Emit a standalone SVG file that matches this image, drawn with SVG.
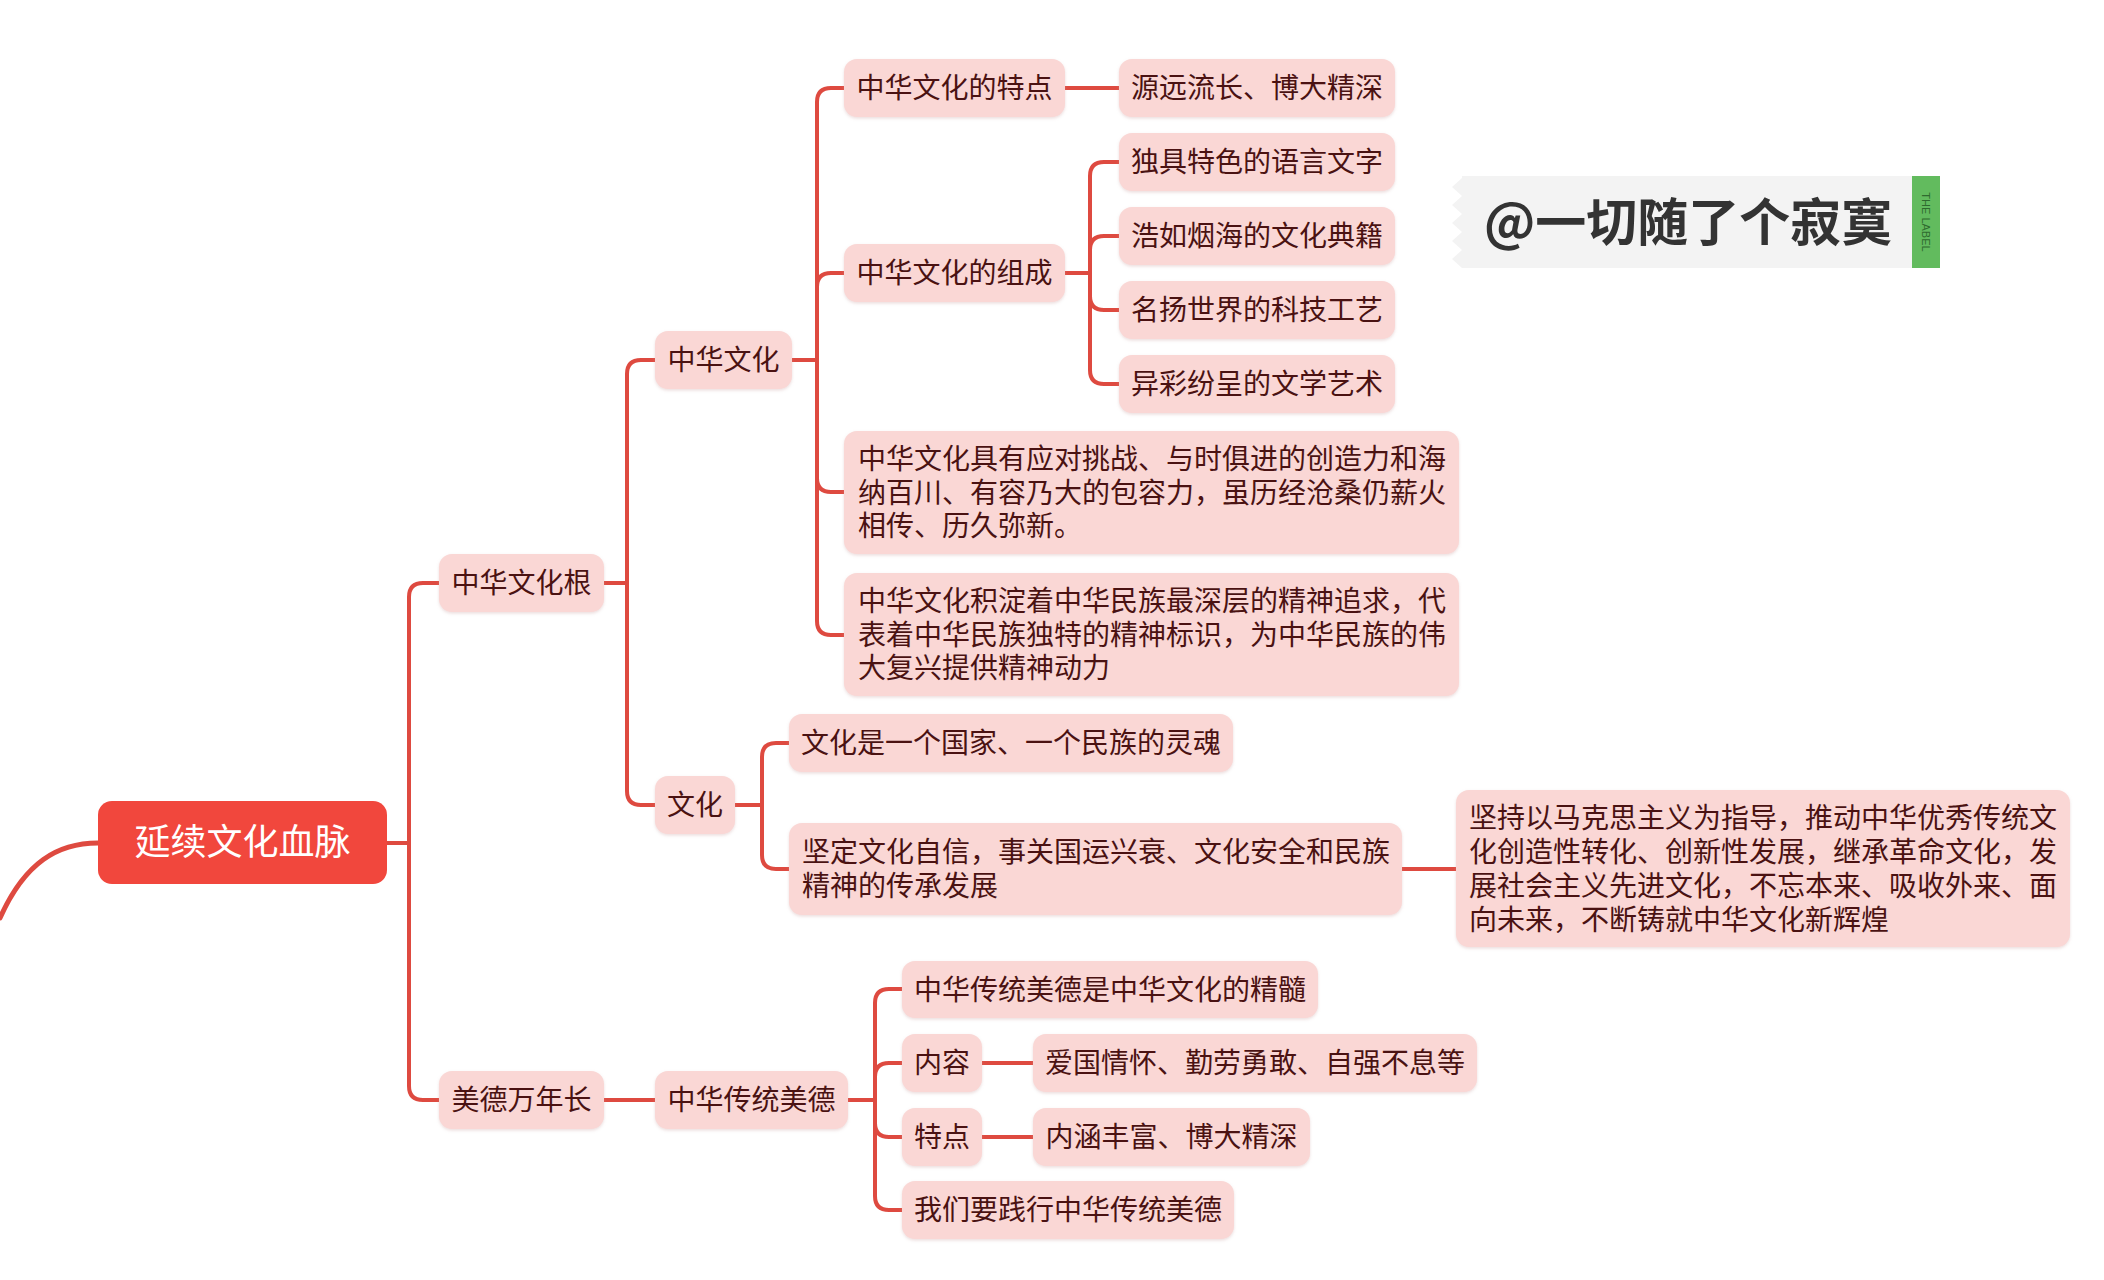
<svg xmlns="http://www.w3.org/2000/svg" width="2104" height="1280" viewBox="0 0 2104 1280">
<defs>
<filter id="sh" x="-5%" y="-10%" width="110%" height="130%">
<feDropShadow dx="0" dy="1.5" stdDeviation="1.5" flood-color="#c9a0a0" flood-opacity="0.35"/>
</filter>
</defs>
<style>
.n rect{fill:#FAD7D5;filter:url(#sh)}
.n text{font-family:"Noto Sans CJK SC","Noto Sans",sans-serif;font-size:28px;fill:#4A1212;dominant-baseline:central}
.c{text-anchor:middle}
.e path{fill:none;stroke:#DE4A40;stroke-width:4;stroke-linecap:round;stroke-linejoin:round}
</style>
<rect width="2104" height="1280" fill="#ffffff"/>
<g class="e" id="connectors">
<path d="M98,843 C58,843 25,862 0,918" style="stroke-width:5"/>
<path d="M387,843 H409 M409,843 V597 Q409,583 423,583 H439 M409,843 V1086 Q409,1100 423,1100 H439"/>
<path d="M604,583 H627 M627,583 V374 Q627,360 641,360 H655 M627,583 V791 Q627,805 641,805 H655"/>
<path d="M792,360 H817 M817,360 V102 Q817,88 831,88 H844 M817,360 V287 Q817,273 831,273 H844 M817,360 V478 Q817,492 831,492 H844 M817,360 V621 Q817,635 831,635 H844"/>
<path d="M1065,88 H1119"/>
<path d="M1065,273 H1090 M1090,273 V176 Q1090,162 1104,162 H1119 M1090,273 V250 Q1090,236 1104,236 H1119 M1090,273 V296 Q1090,310 1104,310 H1119 M1090,273 V370 Q1090,384 1104,384 H1119"/>
<path d="M735,805 H762 M762,805 V757 Q762,743 776,743 H789 M762,805 V855 Q762,869 776,869 H789"/>
<path d="M1402,869 H1456"/>
<path d="M604,1100 H655"/>
<path d="M848,1100 H875 M875,1100 V1003 Q875,989 889,989 H902 M875,1100 V1077 Q875,1063 889,1063 H902 M875,1100 V1123 Q875,1137 889,1137 H902 M875,1100 V1196 Q875,1210 889,1210 H902"/>
<path d="M982,1063 H1033"/>
<path d="M982,1137 H1033"/>
</g>
<g id="root">
<rect x="98" y="801" width="289" height="83" rx="14" fill="#F1473D"/>
<text x="242.5" y="839" text-anchor="middle" dominant-baseline="central" font-family="'Noto Sans CJK SC','Noto Sans',sans-serif" font-size="36" fill="#ffffff">延续文化血脉</text>
</g>
<g class="n" id="n-zhwhg"><rect x="439" y="554" width="165" height="58" rx="13"/><text class="c" x="521.5" y="581">中华文化根</text></g>
<g class="n" id="n-mdwnc"><rect x="439" y="1071" width="165" height="58" rx="13"/><text class="c" x="521.5" y="1098">美德万年长</text></g>
<g class="n" id="n-zhwh"><rect x="655" y="331" width="137" height="58" rx="13"/><text class="c" x="723.5" y="358">中华文化</text></g>
<g class="n" id="n-wh"><rect x="655" y="776" width="80" height="58" rx="13"/><text class="c" x="695" y="803">文化</text></g>
<g class="n" id="n-tedian"><rect x="844" y="59" width="221" height="58" rx="13"/><text class="c" x="954.5" y="86">中华文化的特点</text></g>
<g class="n" id="n-zucheng"><rect x="844" y="244" width="221" height="58" rx="13"/><text class="c" x="954.5" y="271">中华文化的组成</text></g>
<g class="n" id="n-long1"><rect x="844" y="431" width="615" height="123" rx="13"/><text><tspan x="858" y="457">中华文化具有应对挑战、与时俱进的创造力和海</tspan><tspan x="858" y="490.5">纳百川、有容乃大的包容力，虽历经沧桑仍薪火</tspan><tspan x="858" y="524">相传、历久弥新。</tspan></text></g>
<g class="n" id="n-long2"><rect x="844" y="573" width="615" height="123" rx="13"/><text><tspan x="858" y="599">中华文化积淀着中华民族最深层的精神追求，代</tspan><tspan x="858" y="632.5">表着中华民族独特的精神标识，为中华民族的伟</tspan><tspan x="858" y="666">大复兴提供精神动力</tspan></text></g>
<g class="n" id="n-yuanyuan"><rect x="1119" y="59" width="276" height="58" rx="13"/><text class="c" x="1257" y="86">源远流长、博大精深</text></g>
<g class="n" id="n-yuyan"><rect x="1119" y="133" width="276" height="58" rx="13"/><text class="c" x="1257" y="160">独具特色的语言文字</text></g>
<g class="n" id="n-dianji"><rect x="1119" y="207" width="276" height="58" rx="13"/><text class="c" x="1257" y="234">浩如烟海的文化典籍</text></g>
<g class="n" id="n-keji"><rect x="1119" y="281" width="276" height="58" rx="13"/><text class="c" x="1257" y="308">名扬世界的科技工艺</text></g>
<g class="n" id="n-wenxue"><rect x="1119" y="355" width="276" height="58" rx="13"/><text class="c" x="1257" y="382">异彩纷呈的文学艺术</text></g>
<g class="n" id="n-linghun"><rect x="789" y="714" width="444" height="58" rx="13"/><text class="c" x="1011" y="741">文化是一个国家、一个民族的灵魂</text></g>
<g class="n" id="n-zixin"><rect x="789" y="823" width="613" height="92" rx="13"/><text><tspan x="802" y="850">坚定文化自信，事关国运兴衰、文化安全和民族</tspan><tspan x="802" y="884">精神的传承发展</tspan></text></g>
<g class="n" id="n-jianchi"><rect x="1456" y="790" width="614" height="157" rx="13"/><text><tspan x="1469" y="816">坚持以马克思主义为指导，推动中华优秀传统文</tspan><tspan x="1469" y="850">化创造性转化、创新性发展，继承革命文化，发</tspan><tspan x="1469" y="884">展社会主义先进文化，不忘本来、吸收外来、面</tspan><tspan x="1469" y="918">向未来，不断铸就中华文化新辉煌</tspan></text></g>
<g class="n" id="n-ctmd"><rect x="655" y="1071" width="193" height="58" rx="13"/><text class="c" x="751.5" y="1098">中华传统美德</text></g>
<g class="n" id="n-jingsui"><rect x="902" y="961" width="416" height="57" rx="13"/><text class="c" x="1110" y="987.5">中华传统美德是中华文化的精髓</text></g>
<g class="n" id="n-neirong"><rect x="902" y="1034" width="80" height="58" rx="13"/><text class="c" x="942" y="1061">内容</text></g>
<g class="n" id="n-aiguo"><rect x="1033" y="1034" width="444" height="58" rx="13"/><text class="c" x="1255" y="1061">爱国情怀、勤劳勇敢、自强不息等</text></g>
<g class="n" id="n-td2"><rect x="902" y="1108" width="80" height="58" rx="13"/><text class="c" x="942" y="1135">特点</text></g>
<g class="n" id="n-neihan"><rect x="1033" y="1108" width="277" height="58" rx="13"/><text class="c" x="1171.5" y="1135">内涵丰富、博大精深</text></g>
<g class="n" id="n-jianxing"><rect x="902" y="1181" width="332" height="58" rx="13"/><text class="c" x="1068" y="1208">我们要践行中华传统美德</text></g>
<g id="watermark">
<polygon points="1462,176 1912,176 1912,268 1462,268 1452,259 1462,250 1452,241 1462,232 1452,223 1462,214 1452,205 1462,196 1452,187 1462,178" fill="#F3F3F3"/>
<rect x="1912" y="176" width="28" height="92" fill="#62BB5E"/>
<text x="1926" y="222" transform="rotate(90 1926 222)" text-anchor="middle" dominant-baseline="central" font-family="'Liberation Sans',sans-serif" font-size="11" fill="#2F6A2F">THE LABEL</text>
<text x="1484" y="219" dominant-baseline="central" font-family="'Noto Sans CJK SC','Noto Sans',sans-serif" font-size="51" font-weight="bold" fill="#333333">@一切随了个寂寞</text>
</g>
</svg>
